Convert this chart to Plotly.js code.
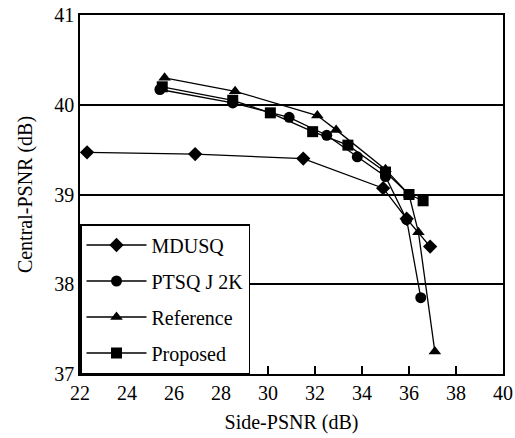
<!DOCTYPE html>
<html>
<head>
<meta charset="utf-8">
<script src="https://cdn.plot.ly/plotly-3.0.1.min.js"></script>
<style>html,body{margin:0;padding:0;background:#fff;}#chart{width:515px;height:438px;}</style>
</head>
<body>
<div id="chart"></div>
<script>
const seriesNames = ["MDUSQ", "PTSQ J 2K", "Reference", "Proposed"];
const mdusqX = [22.3, 26.9, 31.5, 34.9, 35.9, 36.9];
const mdusqY = [39.47, 39.45, 39.40, 39.07, 38.73, 38.42];
const ptsqX = [25.4, 28.5, 30.9, 32.5, 33.8, 35.0, 35.9, 36.5];
const ptsqY = [40.17, 40.02, 39.86, 39.66, 39.42, 39.20, 38.72, 37.85];
const refX = [25.6, 28.6, 32.1, 32.9, 35.0, 36.0, 36.4, 37.1];
const refY = [40.30, 40.15, 39.88, 39.72, 39.28, 39.00, 38.58, 37.25];
const propX = [25.5, 28.5, 30.1, 31.9, 33.4, 35.0, 36.0, 36.6];
const propY = [40.20, 40.05, 39.91, 39.70, 39.55, 39.25, 39.00, 38.93];
const xTicks = [22, 24, 26, 28, 30, 32, 34, 36, 38, 40];
const yTicks = [37, 38, 39, 40, 41];

const symbols = ["diamond", "circle", "triangle-up", "square"];
const xs = [mdusqX, ptsqX, refX, propX];
const ys = [mdusqY, ptsqY, refY, propY];

const traces = seriesNames.map((n, i) => ({
  x: xs[i], y: ys[i], name: n, type: "scatter", mode: "lines+markers",
  legendgroup: "g" + i,
  line: {color: "#000", width: 1.3},
  marker: {symbol: symbols[i], size: 11, color: "#000"}
}));

const font = {family: "Liberation Serif, Times New Roman, serif", size: 20, color: "#000"};
const layout = {
  width: 515, height: 438,
  margin: {l: 80, r: 12, t: 15, b: 64},
  paper_bgcolor: "#fff", plot_bgcolor: "#fff",
  font: font,
  showlegend: true,
  legend: {x: 0, y: 0, xanchor: "left", yanchor: "bottom", bgcolor: "#fff",
    bordercolor: "#000", borderwidth: 1.5, font: font, itemwidth: 60,
    entrywidth: 195, entrywidthmode: "pixels",
    traceorder: "grouped", tracegroupgap: 7},
  xaxis: {range: [22, 40], tickvals: xTicks, ticks: "inside", ticklen: 8,
    tickcolor: "#000", tickwidth: 1.5, showgrid: false, zeroline: false,
    ticklabeloverflow: "allow",
    showline: true, linecolor: "#000", linewidth: 1.5, mirror: true,
    title: {text: "Side-PSNR (dB)", font: font, standoff: 12}, tickfont: font},
  yaxis: {range: [37, 41], tickvals: yTicks, ticks: "", showgrid: true,
    gridcolor: "#000", gridwidth: 1.5, zeroline: false,
    ticklabeloverflow: "allow",
    showline: true, linecolor: "#000", linewidth: 1.5, mirror: true,
    title: {text: "Central-PSNR (dB)", font: font, standoff: 16}, tickfont: font}
};
Plotly.newPlot("chart", traces, layout, {displayModeBar: false});
</script>
</body>
</html>
